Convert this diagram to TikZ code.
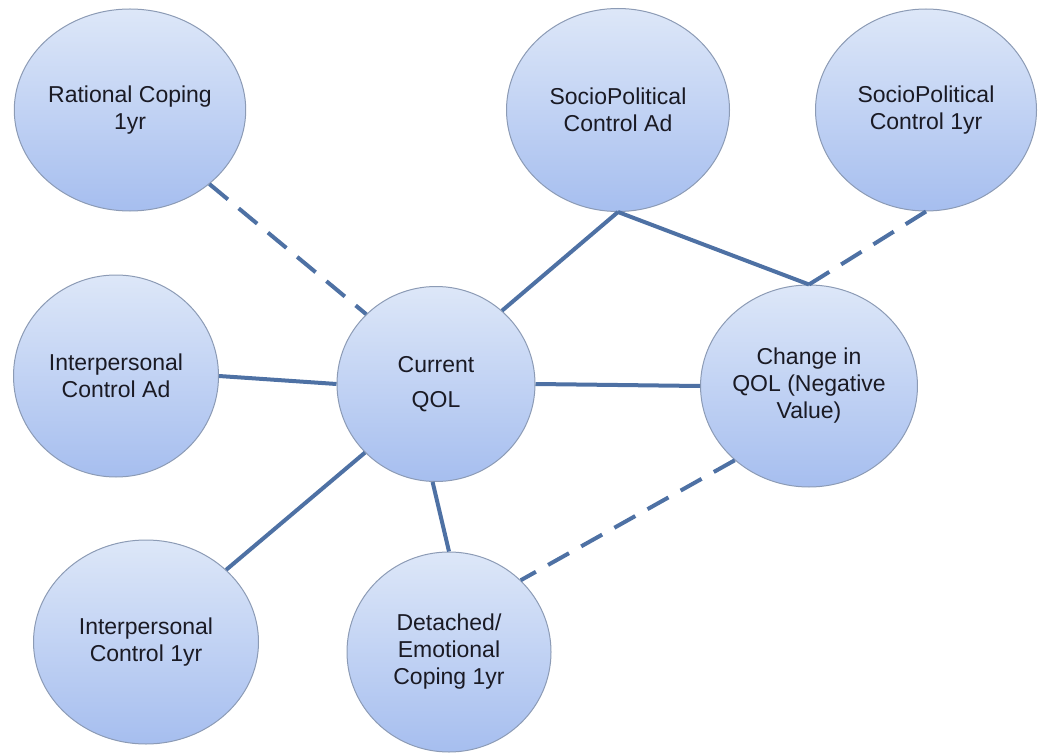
\documentclass[tikz,border=0pt]{standalone}
\usepackage{fontspec}
\setmainfont{Liberation Sans}
\usetikzlibrary{shapes.geometric}
\definecolor{topc}{HTML}{DDE7F8}
\definecolor{botc}{HTML}{A6BEEF}
\definecolor{rim}{HTML}{8C9BB5}
\definecolor{edgec}{HTML}{4E71A4}
\definecolor{txt}{HTML}{1A1A24}
\begin{document}
\begin{tikzpicture}[x=1pt,y=-1pt,
  bub/.style={ellipse, draw=rim, line width=1pt, top color=topc, bottom color=botc,
    inner sep=0pt, align=center, text=txt, font=\fontsize{23}{27}\selectfont},
  link/.style={draw=edgec, line width=4pt},
  dlink/.style={link, dash pattern=on 24pt off 14pt}]
\useasboundingbox (0,0) rectangle (1038,754);

\node[bub, minimum width=215pt, minimum height=202pt] (rc) at (130,110) {Rational Coping\\1yr};
\node[bub, minimum width=223pt, minimum height=203pt] (spad) at (618,110) {SocioPolitical\\Control Ad};
\node[bub, minimum width=221pt, minimum height=202pt] (spyr) at (926,110) {SocioPolitical\\Control 1yr};
\node[bub, minimum width=205pt, minimum height=202pt] (ipad) at (116,376) {Interpersonal\\Control Ad};
\node[bub, minimum width=198pt, minimum height=195pt] (cq) at (436,384) {Current\\[8pt]QOL};
\node[bub, minimum width=202pt, minimum height=202pt] (chg) at (809,386) {Change in\\QOL (Negative\\Value)};
\node[bub, minimum width=225pt, minimum height=204pt] (ipyr) at (146,642) {Interpersonal\\Control 1yr};
\node[bub, minimum width=204pt, minimum height=200pt] (dec) at (449,652) {Detached/\\Emotional\\Coping 1yr};

\draw[dlink] (rc.-43) -- (cq.135);
\draw[link] (spad.south) -- (cq.48);
\draw[link] (spad.south) -- (chg.north);
\draw[dlink] (spyr.south) -- (chg.north);
\draw[link] (ipad.east) -- (cq.west);
\draw[link] (cq.east) -- (chg.west);
\draw[link] (cq.224) -- (ipyr.42);
\draw[link] (cq.268) -- (dec.north);
\draw[dlink] (chg.225) -- (dec.45);
\end{tikzpicture}
\end{document}
